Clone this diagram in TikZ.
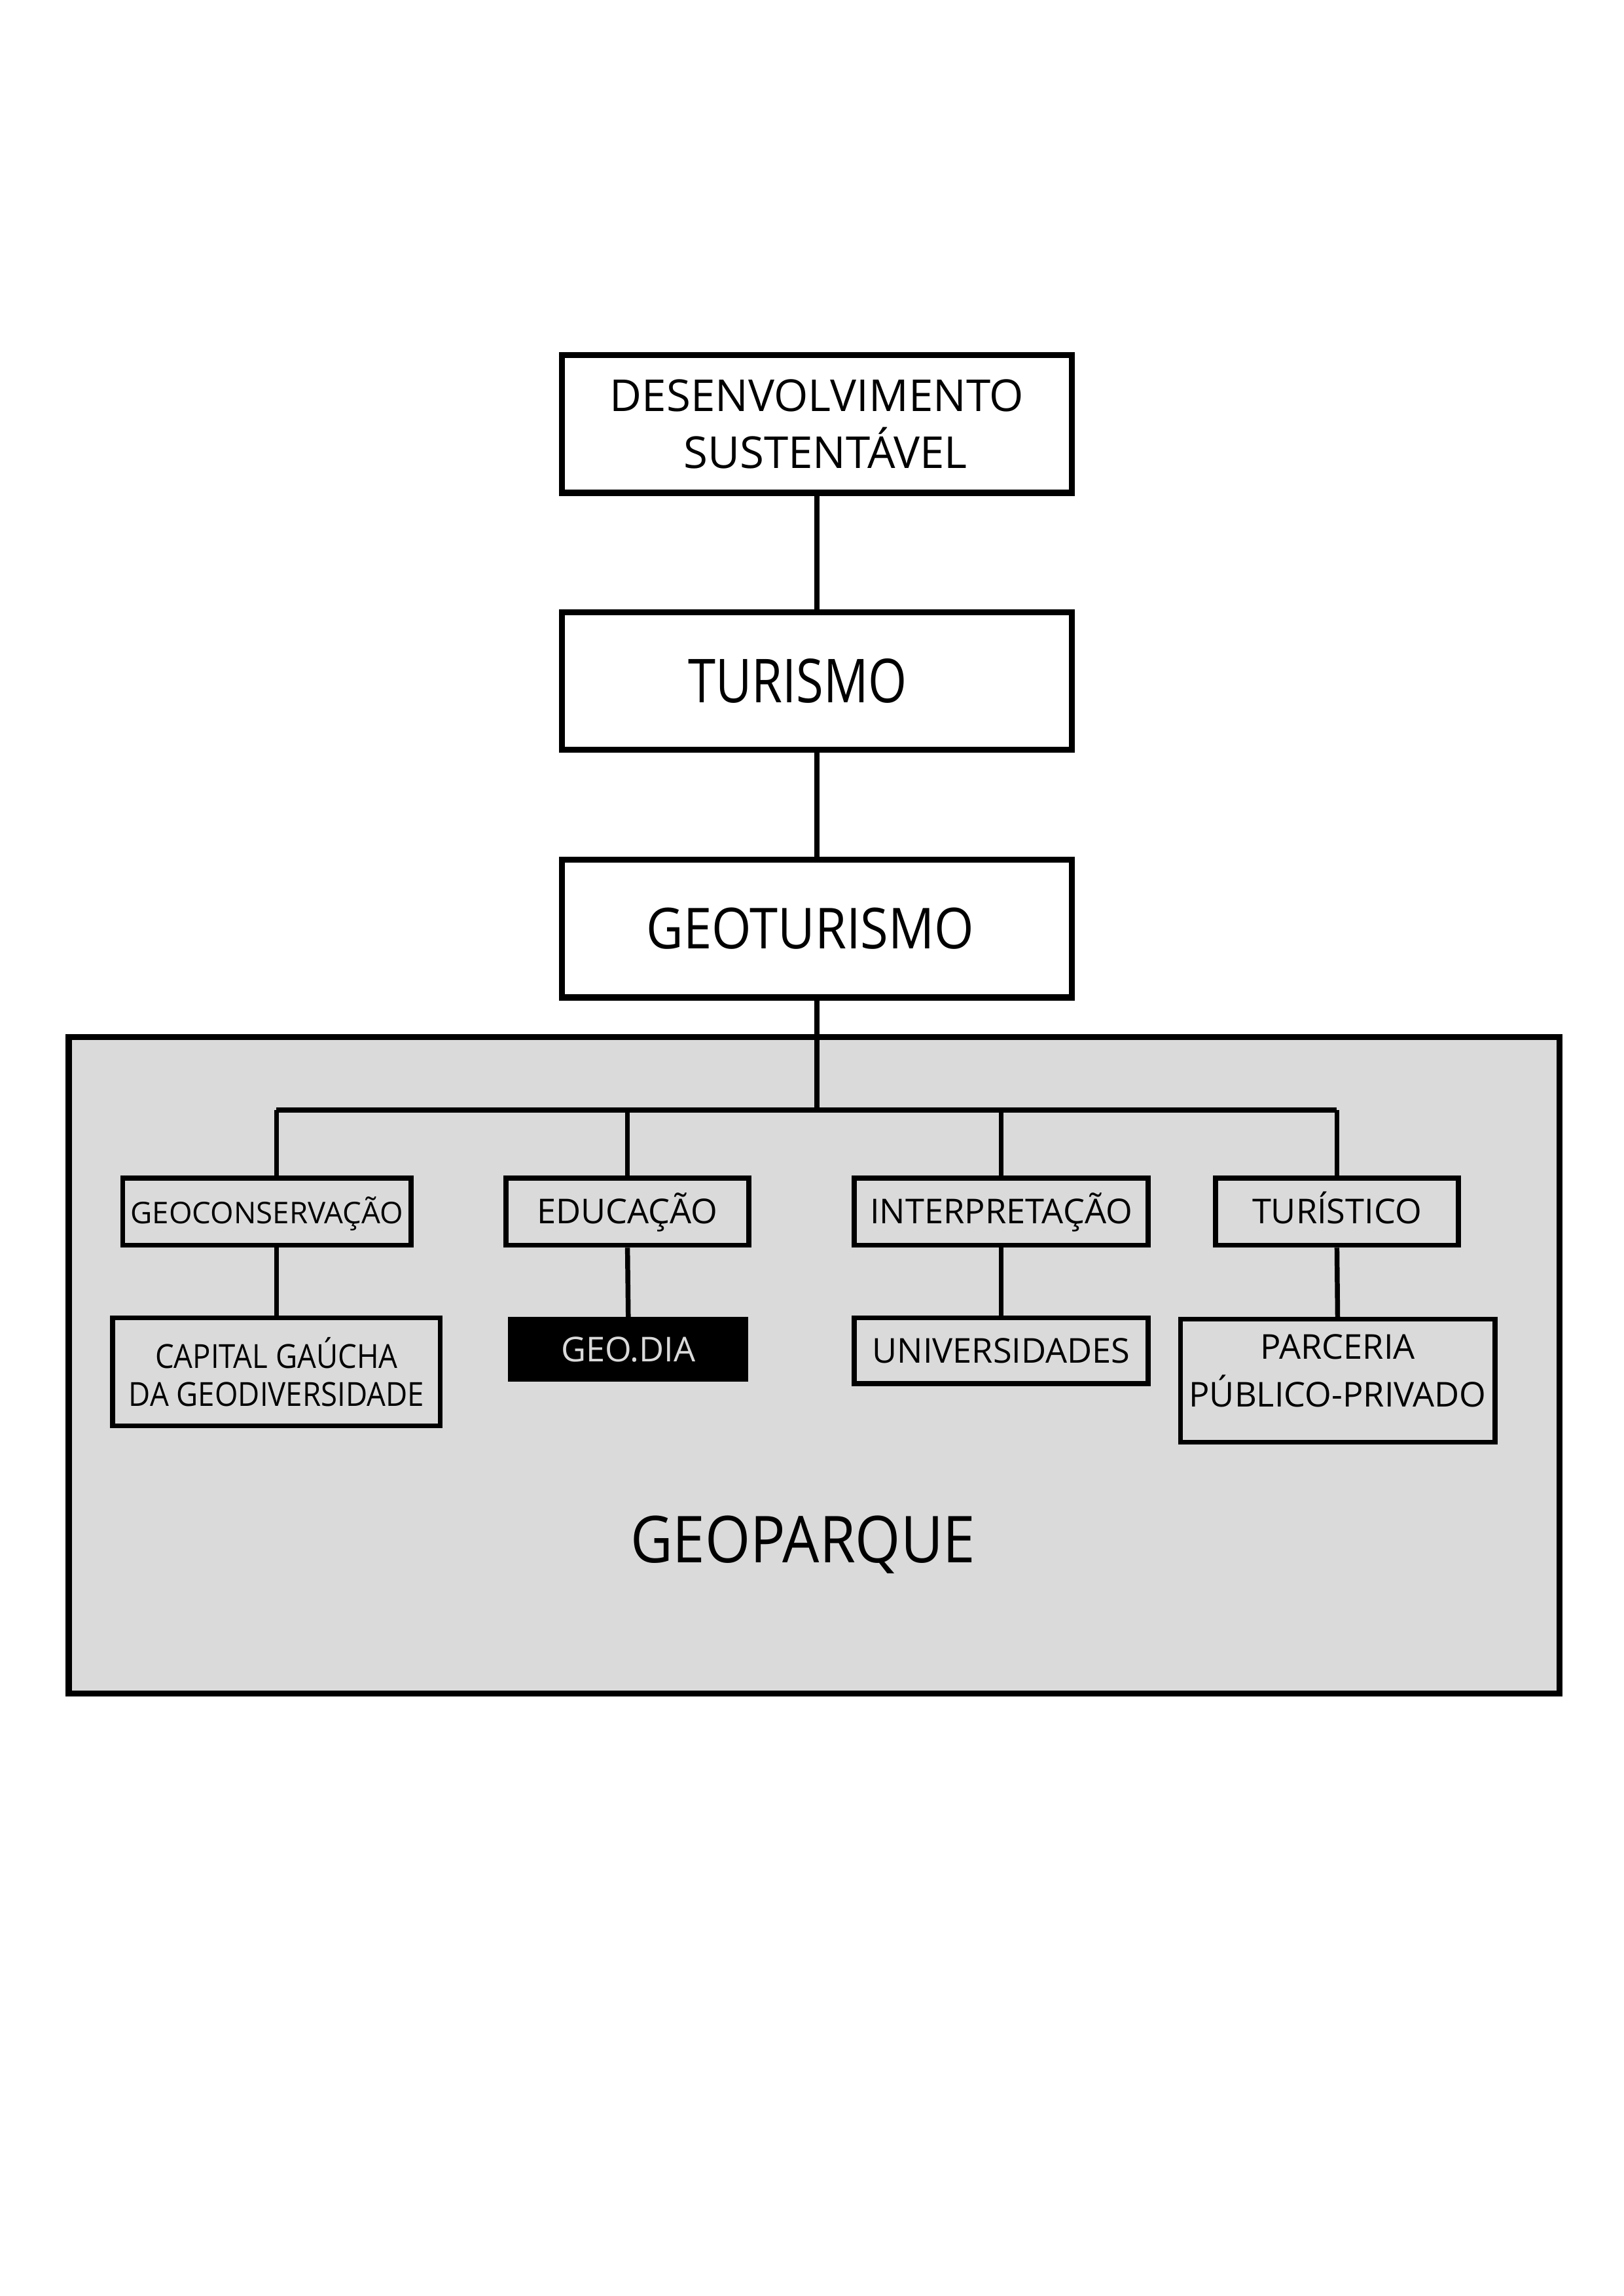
\documentclass[tikz,border=0pt]{standalone}
\usepackage{fontspec}
\setmainfont{Open Sans}
\newfontfamily\fontemedia{Open Sans}[FakeStretch=0.9]
\newfontfamily\fonteestreita{Open Sans}[FakeStretch=0.82]
\usepackage{tikz}
\usetikzlibrary{positioning,calc}

\begin{document}
\begin{tikzpicture}[
    caixa/.style={rectangle, draw, line width=2.2pt, fill=white, inner sep=0pt, minimum width=6.6cm, minimum height=1.78cm, align=center},
    caixinha/.style={rectangle, draw, line width=1.8pt, fill=cinza, inner sep=0pt, align=center, font=\fontsize{12.6}{14}\selectfont},
    umalinha/.style={text height=10pt, text depth=1pt},
    linha/.style={line width=2pt},
    linhafina/.style={line width=1.8pt}
  ]
        \definecolor{cinza}{HTML}{DADADA}
        % Folha A4
        \useasboundingbox (0,0) rectangle (21,29.7);
        \fill[white] (0,0) rectangle (21,29.7);
        % Retangulo - Geoparque (cinza)
        \draw[line width=2.2pt, fill=cinza] (0.889,7.792) rectangle (20.168,16.286);
        \node at (10.386,9.722) (geoparque) {\fontemedia\fontsize{23.8}{26}\selectfont GEOPARQUE};
        % Caixa - Desenvolvimento sustentavel
        \node at (10.566,24.214) [caixa, font=\fontsize{16.2}{21}\selectfont] (desenv) {DESENVOLVIMENTO\\\hspace*{0.22cm}SUSTENTÁVEL};
        % Caixa - Turismo
        \node at (10.566,20.893) [caixa, font=\fonteestreita\fontsize{22.3}{26}\selectfont] (turismo) {TURISMO\hspace*{0.5cm}};
        % Caixa - Geoturismo
        \node at (10.566,17.687) [caixa, font=\fontemedia\fontsize{20.8}{24}\selectfont] (geoturismo) {GEOTURISMO\hspace*{0.17cm}};
        % Linhas entre as caixas de cima
        \draw[linha] (desenv.south) -- (turismo.north);
        \draw[linha] (turismo.south) -- (geoturismo.north);
        % Barra horizontal
        \coordinate (barra) at (10.566,15.341);
        \draw[linha] (geoturismo.south) -- (barra);
        % Caixas - segundo nivel
        \node at (3.453,14.026) [caixinha, umalinha, minimum width=3.727cm, minimum height=0.87cm, font=\fontsize{11}{13}\selectfont] (geocons) {GEOCONSERVAÇÃO};
        \node at (8.116,14.026) [caixinha, umalinha, minimum width=3.141cm, minimum height=0.87cm] (educacao) {EDUCAÇÃO};
        \node at (12.950,14.026) [caixinha, umalinha, minimum width=3.803cm, minimum height=0.87cm] (interpret) {INTERPRETAÇÃO};
        \node at (17.292,14.026) [caixinha, umalinha, minimum width=3.141cm, minimum height=0.87cm] (turistico) {TURÍSTICO};
        % Caixas - terceiro nivel
        \node at (3.576,11.954) [caixinha, minimum width=4.238cm, minimum height=1.4cm, font=\fontemedia\fontsize{12.2}{14}\selectfont] (capital) {CAPITAL GAÚCHA\\DA GEODIVERSIDADE};
        \node at (8.126,12.247) [caixinha, umalinha, minimum width=3.046cm, minimum height=0.776cm, fill=black, text=cinza, draw=black] (geodia) {GEO.DIA};
        \node at (12.950,12.228) [caixinha, umalinha, minimum width=3.803cm, minimum height=0.851cm] (univ) {UNIVERSIDADES};
        \node at (17.301,11.840) [caixinha, minimum width=4.068cm, minimum height=1.589cm,
            label={[yshift=0.13cm, align=center, font=\fontsize{12.6}{17.5}\selectfont]center:PARCERIA\\PÚBLICO-PRIVADO}] (parceria) {};
        % Barra e ramos
        \draw[linhafina] (capital |- barra) -- (turistico |- barra);
        \draw[linhafina] (capital |- barra) -- (capital |- geocons.north);
        \draw[linhafina] (educacao |- barra) -- (educacao.north);
        \draw[linhafina] (interpret |- barra) -- (interpret.north);
        \draw[linhafina] (turistico |- barra) -- (turistico.north);
        % Ramos para o terceiro nivel
        \draw[linhafina] (capital |- geocons.south) -- (capital.north);
        \draw[linhafina] (educacao.south) -- (geodia.north);
        \draw[linhafina] (interpret.south) -- (univ.north);
        \draw[linhafina] (turistico.south) -- (parceria.north);
    \end{tikzpicture}
\end{document}
